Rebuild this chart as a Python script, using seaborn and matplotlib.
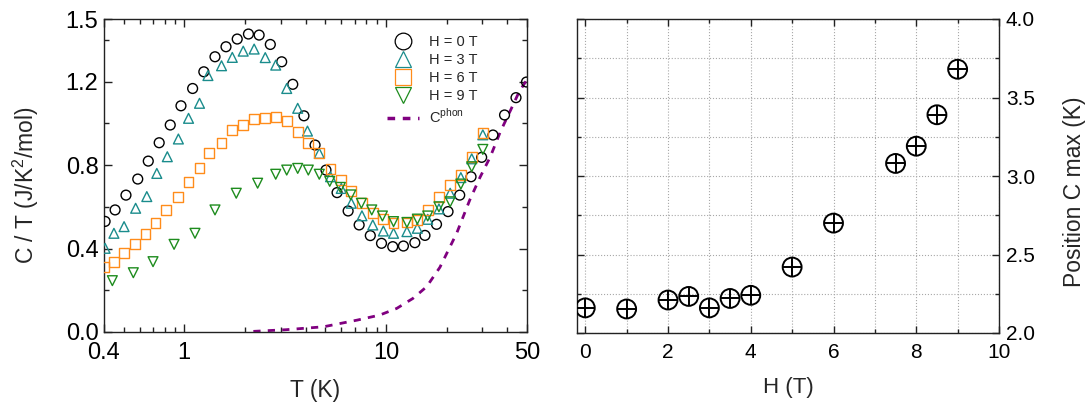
import numpy as np
import pandas as pd
import matplotlib
matplotlib.use("Agg")
import matplotlib.pyplot as plt
import seaborn as sns
from matplotlib.lines import Line2D
from matplotlib.ticker import FixedLocator, NullFormatter, MultipleLocator

# C/T vs T for four fields
h0_T = [0.405, 0.454, 0.514, 0.588, 0.663, 0.751, 0.852, 0.963, 1.10, 1.25, 1.42, 1.61, 1.83,
        2.08, 2.35, 2.67, 3.04, 3.45, 3.92, 4.45, 5.04, 5.72, 6.49, 7.36, 8.36, 9.5, 10.8,
        12.2, 13.9, 15.6, 17.8, 20.3, 23.2, 26.4, 29.8, 33.9, 38.7, 44.1, 49.7]
h0_C = [0.53, 0.585, 0.656, 0.733, 0.819, 0.907, 0.992, 1.084, 1.167, 1.247, 1.319, 1.367, 1.404,
        1.428, 1.423, 1.378, 1.295, 1.187, 1.036, 0.896, 0.776, 0.668, 0.580, 0.513, 0.462, 0.425, 0.409,
        0.412, 0.428, 0.463, 0.516, 0.577, 0.656, 0.744, 0.837, 0.944, 1.040, 1.123, 1.198]

h3_T = [0.405, 0.448, 0.503, 0.574, 0.652, 0.731, 0.824, 0.935, 1.05, 1.19, 1.31, 1.53, 1.73,
        1.96, 2.22, 2.52, 2.84, 3.22, 3.65, 4.08, 4.67, 5.31, 6.0, 6.73, 7.6, 8.6, 9.7,
        10.9, 12.7, 14.3, 16.1, 18.3, 20.8, 23.5, 26.6, 30.2]
h3_C = [0.401, 0.473, 0.505, 0.593, 0.649, 0.760, 0.840, 0.925, 1.024, 1.096, 1.229, 1.276, 1.316,
        1.346, 1.356, 1.315, 1.279, 1.167, 1.072, 0.963, 0.856, 0.744, 0.688, 0.617, 0.557, 0.513, 0.484,
        0.473, 0.481, 0.497, 0.54, 0.59, 0.665, 0.74, 0.83, 0.945]

h6_T = [0.401, 0.448, 0.503, 0.570, 0.643, 0.72, 0.81, 0.935, 1.05, 1.19, 1.33, 1.53, 1.73,
        1.96, 2.22, 2.52, 2.84, 3.22, 3.65, 4.1, 4.67, 5.31, 6.0, 6.73, 7.6, 8.6, 9.7,
        10.9, 12.7, 14.3, 16.1, 18.3, 20.8, 23.5, 26.6, 30.2]
h6_C = [0.313, 0.337, 0.377, 0.420, 0.468, 0.521, 0.585, 0.648, 0.717, 0.784, 0.856, 0.904, 0.968,
        0.992, 1.019, 1.024, 1.032, 1.011, 0.957, 0.907, 0.856, 0.781, 0.728, 0.676, 0.617, 0.569, 0.541,
        0.521, 0.525, 0.537, 0.585, 0.645, 0.704, 0.752, 0.84, 0.952]

h9_T = [0.44, 0.559, 0.70, 0.89, 1.13, 1.42, 1.81, 2.31, 2.84, 3.22, 3.65, 4.12, 4.67, 5.26,
        5.94, 6.69, 7.55, 8.5, 9.6, 10.9, 12.7, 14.3, 16.1, 18.3, 20.8, 23.5, 26.6, 30.2]
h9_C = [0.246, 0.284, 0.337, 0.420, 0.473, 0.585, 0.665, 0.713, 0.756, 0.776, 0.784, 0.776, 0.756, 0.722,
        0.693, 0.657, 0.617, 0.585, 0.556, 0.529, 0.525, 0.541, 0.556, 0.60, 0.624, 0.709, 0.792, 0.875]

# phonon contribution
phon_T = [2.2, 3.2, 4.9, 7.2, 9.3, 11.3, 13.6, 15.9, 18.5, 22.4, 26.0, 29.2, 32.9, 36.9, 41.5, 45.7, 50]
phon_C = [0.003, 0.011, 0.025, 0.057, 0.081, 0.113, 0.161, 0.217, 0.31, 0.473, 0.632, 0.74, 0.84,
          0.96, 1.064, 1.151, 1.21]

# position of C max vs field
field_H = [0, 1, 2, 2.5, 3, 3.5, 4, 5, 6, 7.5, 8, 8.5, 9]
t_max = [2.16, 2.153, 2.21, 2.233, 2.16, 2.22, 2.24, 2.42, 2.70, 3.08, 3.19, 3.39, 3.68]

series = [
    ("H = 0 T", h0_T, h0_C, "o", "black"),
    ("H = 3 T", h3_T, h3_C, "^", "#1a8c8c"),
    ("H = 6 T", h6_T, h6_C, "s", "#ff8c1a"),
    ("H = 9 T", h9_T, h9_C, "v", "#1e8c1e"),
]
phon_color = "#800080"

sns.set_style("ticks")
plt.rcParams["font.family"] = ["Liberation Sans", "DejaVu Sans"]
plt.rcParams["mathtext.fontset"] = "custom"
plt.rcParams["mathtext.rm"] = "Liberation Sans"

fig = plt.figure(figsize=(10.89, 4.07), dpi=100)
ax1 = fig.add_axes([104 / 1089, 1 - 332 / 407, 423 / 1089, 313 / 407])
ax2 = fig.add_axes([577 / 1089, 1 - 333 / 407, 422 / 1089, 314 / 407])

# ---- left panel ----
for label, T, C, m, col in series:
    sns.scatterplot(x=T, y=C, ax=ax1, marker=m, s=50, facecolor="none",
                    edgecolor=col, linewidth=1.0, zorder=3)
sns.lineplot(x=phon_T, y=phon_C, ax=ax1, color=phon_color, linewidth=2,
             dashes=False, zorder=2)
ax1.lines[-1].set_dashes((2.6, 2.6))

ax1.set_xscale("log")
ax1.set_xlim(0.4, 50)
ax1.set_ylim(0, 1.5)
ax1.xaxis.set_major_locator(FixedLocator([0.4, 1, 10, 50]))
ax1.set_xticklabels(["0.4", "1", "10", "50"])
ax1.xaxis.set_minor_locator(FixedLocator([0.5, 0.6, 0.7, 0.8, 0.9, 2, 3, 4, 5, 6, 7, 8, 9, 20, 30, 40]))
ax1.xaxis.set_minor_formatter(NullFormatter())
ax1.yaxis.set_major_locator(FixedLocator([0.0, 0.4, 0.8, 1.2, 1.5]))
ax1.set_yticklabels(["0.0", "0.4", "0.8", "1.2", "1.5"])
ax1.yaxis.set_minor_locator(FixedLocator([0.2, 0.6, 1.0, 1.4]))
ax1.tick_params(which="both", direction="in", top=True, right=True, width=1, colors="#222222")
ax1.tick_params(which="major", length=6, labelsize=17, labelcolor="black")
ax1.tick_params(which="minor", length=3.5)
ax1.tick_params(axis="x", which="major", pad=7)
ax1.tick_params(axis="y", which="major", pad=4)
ax1.set_xlabel("T (K)", fontsize=16.5, labelpad=11)
ax1.set_ylabel("C / T (J/K$^{\\mathregular{2}}$/mol)", fontsize=16.5)
ax1.yaxis.set_label_coords(-0.15, 0.47)
for sp in ax1.spines.values():
    sp.set_linewidth(1)
    sp.set_color("#222222")

handles = [Line2D([], [], marker=m, linestyle="none", markerfacecolor="none",
                  markeredgecolor=col, markersize=12, markeredgewidth=0.9)
           for _, _, _, m, col in series]
handles.append(Line2D([], [], color=phon_color, linewidth=2.5, dashes=(2.2, 2.2)))
labels = [s[0] for s in series] + ["C$^{\\mathregular{phon}}$"]
ax1.legend(handles, labels, loc="upper left", bbox_to_anchor=(0.655, 0.968), frameon=False,
           fontsize=10.5, handlelength=2.2, handletextpad=0.7, labelspacing=0.28,
           borderaxespad=0)

# ---- right panel ----
sns.scatterplot(x=field_H, y=t_max, ax=ax2, marker="o", s=185, facecolor="none",
                edgecolor="black", linewidth=1.4, zorder=3)
sns.scatterplot(x=field_H, y=t_max, ax=ax2, marker="+", s=185, color="black",
                linewidth=1.4, zorder=3)
ax2.set_xlim(-0.2, 10)
ax2.set_ylim(2.0, 4.0)
ax2.xaxis.set_major_locator(MultipleLocator(2))
ax2.xaxis.set_minor_locator(MultipleLocator(1))
ax2.yaxis.set_major_locator(MultipleLocator(0.5))
ax2.yaxis.set_minor_locator(MultipleLocator(0.25))
ax2.yaxis.set_major_formatter(matplotlib.ticker.FormatStrFormatter("%.1f"))
ax2.grid(which="both", color="#a8a8a8", linestyle=":", linewidth=0.8)
ax2.set_axisbelow(True)
ax2.tick_params(which="both", direction="in", top=True, right=True, left=True,
                labelleft=False, labelright=True, width=1, colors="#222222")
ax2.tick_params(which="major", length=5, labelsize=15, labelcolor="black")
ax2.tick_params(which="minor", length=3)
ax2.tick_params(axis="x", which="major", pad=7)
ax2.tick_params(axis="y", which="major", pad=5)
ax2.yaxis.set_label_position("right")
ax2.set_xlabel("H (T)", fontsize=16, labelpad=11)
ax2.set_ylabel("Position C max (K)", fontsize=16.5, rotation=90)
ax2.yaxis.set_label_coords(1.152, 0.45)
for sp in ax2.spines.values():
    sp.set_linewidth(1)
    sp.set_color("#222222")

fig.savefig("out.png", dpi=100)
